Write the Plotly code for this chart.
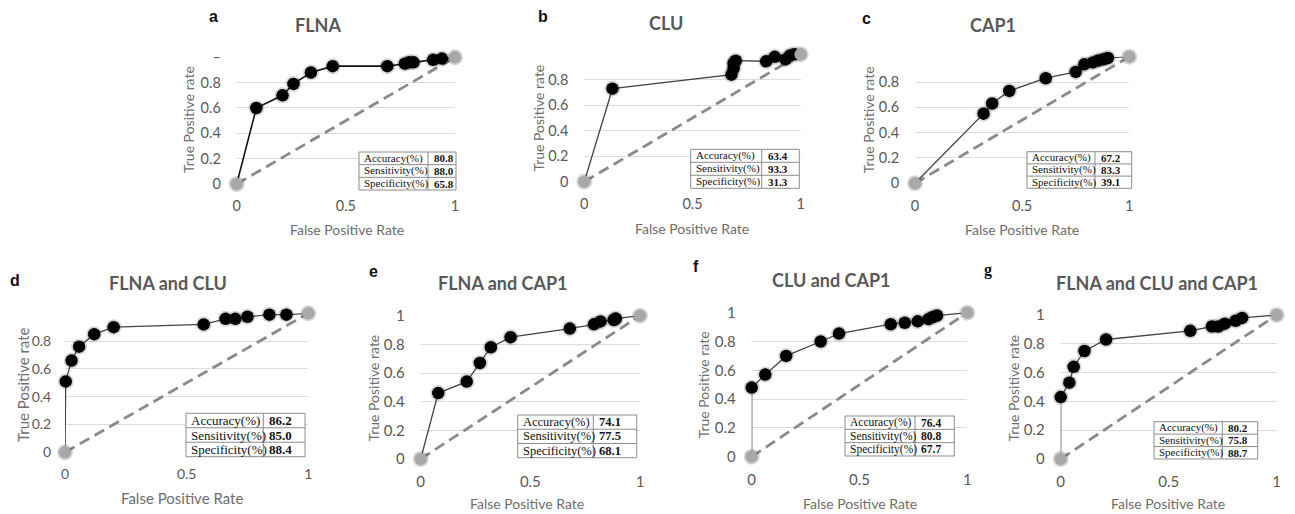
import plotly.graph_objects as go

W, H = 1295, 514

# ---------------- data ----------------
panel_letters = ["a", "b", "c", "d", "e", "f", "g"]
panel_titles = ["FLNA", "CLU", "CAP1", "FLNA and CLU", "FLNA and CAP1",
                "CLU and CAP1", "FLNA and CLU and CAP1"]

fpr_a = [0, 0.09, 0.21, 0.26, 0.34, 0.44, 0.69, 0.77, 0.79, 0.81, 0.90, 0.94, 1]
tpr_a = [0, 0.60, 0.70, 0.79, 0.88, 0.93, 0.93, 0.95, 0.96, 0.96, 0.98, 0.99, 1]

fpr_b = [0, 0.13, 0.68, 0.69, 0.69, 0.70, 0.84, 0.88, 0.93, 0.95, 0.97, 1]
tpr_b = [0, 0.73, 0.84, 0.89, 0.93, 0.95, 0.945, 0.98, 0.96, 0.99, 1.0, 1]

fpr_c = [0, 0.32, 0.36, 0.44, 0.61, 0.75, 0.79, 0.83, 0.855, 0.88, 0.90, 1]
tpr_c = [0, 0.55, 0.63, 0.73, 0.83, 0.88, 0.94, 0.955, 0.97, 0.98, 0.99, 1]

fpr_d = [0, 0.003, 0.027, 0.058, 0.12, 0.20, 0.57, 0.66, 0.70, 0.75, 0.84, 0.91, 1]
tpr_d = [0, 0.51, 0.66, 0.76, 0.85, 0.90, 0.92, 0.96, 0.96, 0.975, 0.99, 0.99, 1]

fpr_e = [0, 0.08, 0.21, 0.27, 0.32, 0.41, 0.68, 0.79, 0.82, 0.88, 0.89, 1]
tpr_e = [0, 0.46, 0.54, 0.67, 0.78, 0.85, 0.91, 0.94, 0.96, 0.97, 0.98, 1]

fpr_f = [0, 0, 0.063, 0.16, 0.32, 0.405, 0.645, 0.71, 0.77, 0.82, 0.84, 0.86, 1]
tpr_f = [0, 0.48, 0.57, 0.70, 0.80, 0.855, 0.92, 0.93, 0.94, 0.955, 0.97, 0.98, 1]

fpr_g = [0, 0, 0.04, 0.06, 0.11, 0.21, 0.60, 0.70, 0.73, 0.76, 0.81, 0.84, 1]
tpr_g = [0, 0.43, 0.53, 0.64, 0.75, 0.83, 0.89, 0.92, 0.92, 0.94, 0.96, 0.98, 1]

fprs = [fpr_a, fpr_b, fpr_c, fpr_d, fpr_e, fpr_f, fpr_g]
tprs = [tpr_a, tpr_b, tpr_c, tpr_d, tpr_e, tpr_f, tpr_g]

metric_names = ["Accuracy(%)", "Sensitivity(%)", "Specificity(%)"]
accuracy = ["80.8", "63.4", "67.2", "86.2", "74.1", "76.4", "80.2"]
sensitivity = ["88.0", "93.3", "83.3", "85.0", "77.5", "80.8", "75.8"]
specificity = ["65.8", "31.3", "39.1", "88.4", "68.1", "67.7", "88.7"]

y_tick_vals = [0, 0.2, 0.4, 0.6, 0.8, 1]
y_tick_text_a = ["0", "0.2", "0.4", "0.6", "0.8", "\u2013"]
y_tick_text_no1 = ["0", "0.2", "0.4", "0.6", "0.8", ""]
y_tick_text = ["0", "0.2", "0.4", "0.6", "0.8", "1"]
x_tick_vals = [0, 0.5, 1]
x_tick_text = ["0", "0.5", "1"]

# ---------------- layout (pixel positions) ----------------
panels = [
    dict(x0=236.7, x1=455.0, y0=184.0, y1=57.3, title=(318, 25), letter=(213, 17),
         ytitle=(188, 120), xtitle=(347, 230), table=(359, 456, 152, 190, 428),
         tfs=18, afs=14, kfs=14.5, ytl=12, tbfs=11, line="#111111", lw=1.6),
    dict(x0=584.3, x1=800.7, y0=181.7, y1=54.3, title=(665.7, 23.3), letter=(543, 16),
         ytitle=(538.3, 118.3), xtitle=(691.7, 228.3), table=(690.7, 799.3, 149.3, 188.3, 761.7),
         tfs=18, afs=14, kfs=14.5, ytl=12, tbfs=11, line="#444444", lw=1.3),
    dict(x0=915.0, x1=1129.3, y0=183.3, y1=56.7, title=(993, 25), letter=(866.7, 18.3),
         ytitle=(868.3, 120), xtitle=(1021.7, 230), table=(1027, 1131.7, 151.7, 188.3, 1095),
         tfs=18, afs=14, kfs=14.5, ytl=12, tbfs=11, line="#444444", lw=1.3),
    dict(x0=65.0, x1=308.3, y0=452.3, y1=313.3, title=(168, 283), letter=(15, 280),
         ytitle=(23, 385), xtitle=(181.7, 498.3), table=(186, 305, 413.3, 456.7, 263.3),
         tfs=18, afs=15, kfs=14, ytl=10, tbfs=13, line="#444444", lw=1.3),
    dict(x0=420.7, x1=640.0, y0=459.0, y1=315.7, title=(502.7, 283), letter=(373, 271.7),
         ytitle=(373.3, 388.3), xtitle=(526.7, 503.3), table=(517.7, 636.7, 415, 457.7, 593.3),
         tfs=18, afs=14, kfs=15, ytl=12, tbfs=12.5, line="#444444", lw=1.3),
    dict(x0=751.7, x1=967.3, y0=456.7, y1=312.7, title=(831.7, 280), letter=(696, 266.7),
         ytitle=(703.3, 385), xtitle=(860, 503.3), table=(845, 954.3, 416, 456, 915),
         tfs=18, afs=14, kfs=15, ytl=12, tbfs=11.5, line="#444444", lw=1.3),
    dict(x0=1060.7, x1=1276.7, y0=459.0, y1=315.0, title=(1156.7, 283.3), letter=(988, 270),
         ytitle=(1013.3, 388.3), xtitle=(1168.3, 503.3), table=(1154, 1257.7, 421.7, 459, 1222.3),
         tfs=18, afs=14, kfs=15, ytl=12, tbfs=11, line="#444444", lw=1.3),
]

SANS = "Lato, 'Open Sans', sans-serif"
SERIF = "'Liberation Serif', 'DejaVu Serif', serif"
GRAY_TXT = "#595959"


def fx(p):
    return p / W


def fy(p):
    return 1 - p / H


fig = go.Figure()
annotations = []
shapes = []

for i, P in enumerate(panels):
    n = i + 1
    xa = "x" if n == 1 else f"x{n}"
    ya = "y" if n == 1 else f"y{n}"
    fpr, tpr = fprs[i], tprs[i]

    fig.add_trace(go.Scatter(x=[fpr[0], fpr[-1]], y=[tpr[0], tpr[-1]], mode="lines",
                             line=dict(color="#8a8a8a", width=2.8, dash="11px,6px"),
                             xaxis=xa, yaxis=ya, showlegend=False, hoverinfo="skip",
                             cliponaxis=False))
    fig.add_trace(go.Scatter(x=fpr, y=tpr, mode="markers",
                             marker=dict(size=16, color="rgba(0,0,0,0.16)"),
                             xaxis=xa, yaxis=ya, showlegend=False, hoverinfo="skip",
                             cliponaxis=False))
    colors = ["#a8a8a8"] + ["#000000"] * (len(fpr) - 2) + ["#a8a8a8"]
    fig.add_trace(go.Scatter(x=fpr, y=tpr, mode="lines+markers",
                             line=dict(color=P["line"], width=P["lw"]),
                             marker=dict(size=12.5, color=colors, line=dict(width=0)),
                             xaxis=xa, yaxis=ya, showlegend=False, cliponaxis=False))

    if i == 0:
        ytt = y_tick_text_a
    elif i in (1, 2, 3):
        ytt = y_tick_text_no1
    else:
        ytt = y_tick_text

    fig.update_layout(**{
        ("xaxis" if n == 1 else f"xaxis{n}"): dict(
            domain=[fx(P["x0"]), fx(P["x1"])], range=[0, 1], anchor=ya,
            showgrid=False, zeroline=False, showline=False, automargin=False,
            tickvals=x_tick_vals, ticktext=x_tick_text,
            ticks="outside", ticklen=9, tickcolor="rgba(0,0,0,0)",
            tickfont=dict(family=SANS, size=P["kfs"], color=GRAY_TXT),
            fixedrange=True),
        ("yaxis" if n == 1 else f"yaxis{n}"): dict(
            domain=[fy(P["y0"]), fy(P["y1"])], range=[0, 1], anchor=xa,
            showgrid=True, gridcolor="#dcdcdc", gridwidth=1, zeroline=False, showline=False,
            automargin=False,
            tickvals=y_tick_vals, ticktext=ytt,
            ticks="outside", ticklen=P["ytl"], tickcolor="rgba(0,0,0,0)",
            tickfont=dict(family=SANS, size=P["kfs"], color=GRAY_TXT),
            fixedrange=True),
    })

    annotations.append(dict(x=fx(P["title"][0]), y=fy(P["title"][1]), xref="paper", yref="paper",
                            text=f"<b>{panel_titles[i]}</b>", showarrow=False,
                            font=dict(family=SANS, size=P["tfs"], color=GRAY_TXT),
                            xanchor="center", yanchor="middle"))
    letter_font = SERIF if panel_letters[i] == "g" else "'Liberation Sans', Arial, sans-serif"
    annotations.append(dict(x=fx(P["letter"][0]), y=fy(P["letter"][1]), xref="paper", yref="paper",
                            text=f"<b>{panel_letters[i]}</b>", showarrow=False,
                            font=dict(family=letter_font, size=16, color="#111111"),
                            xanchor="center", yanchor="middle"))
    annotations.append(dict(x=fx(P["ytitle"][0]), y=fy(P["ytitle"][1]), xref="paper", yref="paper",
                            text="True Positive rate", showarrow=False, textangle=-90,
                            font=dict(family=SANS, size=P["afs"], color="#6e6e6e"),
                            xanchor="center", yanchor="middle"))
    annotations.append(dict(x=fx(P["xtitle"][0]), y=fy(P["xtitle"][1]), xref="paper", yref="paper",
                            text="False Positive Rate", showarrow=False,
                            font=dict(family=SANS, size=P["afs"], color="#6e6e6e"),
                            xanchor="center", yanchor="middle"))

    tx0, tx1, ty0, ty1, tsplit = P["table"]
    shapes.append(dict(type="rect", xref="paper", yref="paper",
                       x0=fx(tx0), x1=fx(tx1), y0=fy(ty1), y1=fy(ty0),
                       fillcolor="white", line=dict(color="#8c8c8c", width=1)))
    shapes.append(dict(type="line", xref="paper", yref="paper",
                       x0=fx(tsplit), x1=fx(tsplit), y0=fy(ty1), y1=fy(ty0),
                       line=dict(color="#8c8c8c", width=1)))
    rh = (ty1 - ty0) / 3
    for r in range(1, 3):
        yy = ty0 + r * rh
        shapes.append(dict(type="line", xref="paper", yref="paper",
                           x0=fx(tx0), x1=fx(tx1), y0=fy(yy), y1=fy(yy),
                           line=dict(color="#8c8c8c", width=1)))
    vals = [accuracy[i], sensitivity[i], specificity[i]]
    for r in range(3):
        yc = ty0 + (r + 0.5) * rh
        annotations.append(dict(x=fx(tx0 + 3), y=fy(yc), xref="paper", yref="paper",
                                text=metric_names[r], showarrow=False,
                                font=dict(family=SERIF, size=P["tbfs"], color="#111111"),
                                xanchor="left", yanchor="middle"))
        annotations.append(dict(x=fx(tsplit + 4), y=fy(yc), xref="paper", yref="paper",
                                text=f"<b>{vals[r]}</b>", showarrow=False,
                                font=dict(family=SERIF, size=P["tbfs"], color="#111111"),
                                xanchor="left", yanchor="middle"))

fig.update_layout(width=W, height=H, margin=dict(l=0, r=0, t=0, b=0, autoexpand=False),
                  paper_bgcolor="white", plot_bgcolor="white",
                  annotations=annotations, shapes=shapes, showlegend=False)

fig.write_html("out.html", config={"displayModeBar": False},
               post_script="document.body.style.margin='0px';document.body.style.overflow='hidden';")
